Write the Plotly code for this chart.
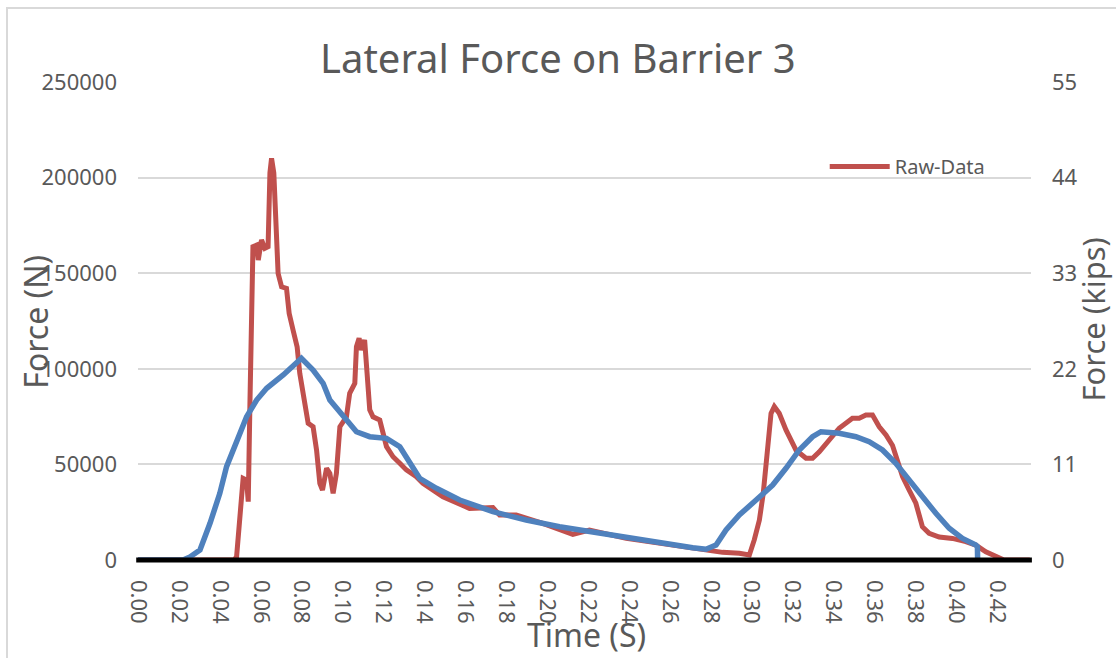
import plotly.graph_objects as go

# ---- data ----
raw_time = [0.000, 0.0470, 0.0482, 0.0505, 0.0514, 0.0531, 0.0539, 0.0547, 0.0554, 0.0562,
            0.0580, 0.0588, 0.0604, 0.0620, 0.0636, 0.0645, 0.0653, 0.0664, 0.0685, 0.0702,
            0.0726, 0.0739, 0.0758, 0.0778, 0.0791, 0.0815, 0.0832, 0.0856, 0.0873, 0.0889,
            0.0902, 0.0922, 0.0938, 0.0954, 0.0970, 0.0987, 0.1019, 0.1035, 0.1060, 0.1068,
            0.1081, 0.1092, 0.1108, 0.1120, 0.1133, 0.1149, 0.1182, 0.1215, 0.1247, 0.1280,
            0.1312, 0.1361, 0.1393, 0.1491, 0.1621, 0.1735, 0.1768, 0.1849, 0.1979, 0.2126,
            0.2207, 0.2387, 0.2549, 0.2761, 0.2858, 0.2940, 0.2989, 0.3013, 0.3038, 0.3057,
            0.3078, 0.3095, 0.3111, 0.3135, 0.3168, 0.3217, 0.3266, 0.3298, 0.3331, 0.3380,
            0.3428, 0.3493, 0.3526, 0.3559, 0.3591, 0.3624, 0.3657, 0.3689, 0.3738, 0.3770,
            0.3803, 0.3835, 0.3868, 0.3917, 0.3982, 0.4047, 0.4096, 0.4145, 0.4210, 0.4234,
            0.4360]
raw_force_n = [0, 0, 1700, 27900, 42700, 41800, 30500, 80200, 132500, 163900,
               164700, 156900, 167400, 163000, 163900, 202400, 210100, 202400, 149900, 142900,
               142100, 129000, 120300, 111500, 97600, 80200, 71500, 69700, 57500, 40100,
               36600, 48000, 45300, 34900, 45300, 69700, 74900, 87200, 92400, 111600,
               116000, 109800, 115100, 97600, 78500, 74900, 73200, 59300, 54000, 50600,
               47100, 43600, 40100, 33100, 27000, 27400, 23500, 23500, 19200, 13400,
               15700, 11300, 8700, 5200, 4000, 3500, 2600, 10500, 20900, 34900,
               59300, 76700, 80200, 76700, 68000, 57500, 53200, 53200, 56600, 62800,
               68900, 74100, 74100, 75800, 75800, 69700, 65400, 59900, 43600, 36600,
               29700, 17400, 14000, 12000, 11300, 9600, 7800, 4300, 900, 0,
               0]

filt_time = [0.000, 0.0220, 0.0254, 0.0303, 0.0352, 0.0400, 0.0433, 0.0482, 0.0531, 0.0580,
             0.0629, 0.0710, 0.0758, 0.0799, 0.0856, 0.0905, 0.0938, 0.1003, 0.1068, 0.1133,
             0.1215, 0.1280, 0.1328, 0.1377, 0.1459, 0.1573, 0.1735, 0.1898, 0.2061, 0.2224,
             0.2387, 0.2549, 0.2712, 0.2777, 0.2826, 0.2875, 0.2940, 0.3022, 0.3103, 0.3168,
             0.3233, 0.3298, 0.3339, 0.3428, 0.3510, 0.3575, 0.3640, 0.3705, 0.3770, 0.3835,
             0.3901, 0.3966, 0.4031, 0.4096, 0.4104, 0.4105]
filt_force_kips = [0, 0, 0.35, 1.15, 4.22, 7.67, 10.74, 13.81, 16.49, 18.41,
                   19.76, 21.29, 22.44, 23.21, 21.86, 20.33, 18.41, 16.49, 14.76, 14.19,
                   14.00, 13.04, 11.31, 9.40, 8.25, 6.90, 5.56, 4.60, 3.83, 3.19,
                   2.55, 2.02, 1.40, 1.23, 1.73, 3.45, 5.18, 6.90, 8.63, 10.55,
                   12.66, 14.19, 14.76, 14.58, 14.19, 13.61, 12.66, 11.13, 9.20, 7.28,
                   5.37, 3.65, 2.49, 1.73, 1.53, 0]

left_ticks = [0, 50000, 100000, 150000, 200000, 250000]
right_ticks = [0, 11, 22, 33, 44, 55]

TXT = "#595959"
FONT = "Noto Sans"

fig = go.Figure()
fig.add_trace(go.Scatter(
    x=raw_time, y=raw_force_n, mode="lines", name="Raw-Data",
    line=dict(color="#C0504D", width=5), yaxis="y"))
fig.add_trace(go.Scatter(
    x=filt_time, y=filt_force_kips, mode="lines", name="Filtered",
    line=dict(color="#4F81BD", width=5.5), yaxis="y2", showlegend=False))

fig.update_layout(
    width=1116, height=658,
    margin=dict(l=138, r=85, t=82, b=98),
    paper_bgcolor="white", plot_bgcolor="white",
    font=dict(family=FONT, color=TXT),
    showlegend=True,
    legend=dict(x=0.769, y=0.864, xanchor="left", yanchor="top",
                bgcolor="rgba(0,0,0,0)", font=dict(size=20, color=TXT),
                itemwidth=60),
    xaxis=dict(range=[0, 0.4366], dtick=0.02, tick0=0, tickformat=".2f",
               tickangle=90, showgrid=False, zeroline=False, showline=False,
               ticks="", ticklabelstandoff=19, tickfont=dict(size=22, color=TXT)),
    yaxis=dict(range=[0, 250000], tickvals=left_ticks, ticktext=[str(v) for v in left_ticks],
               showgrid=True, gridcolor="#d9d9d9", gridwidth=1.5, zeroline=False,
               showline=False, ticks="", ticklabelstandoff=20,
               tickfont=dict(size=22, color=TXT)),
    yaxis2=dict(range=[0, 55], tickvals=right_ticks, overlaying="y", side="right",
                showgrid=False, zeroline=False, showline=False, ticks="",
                ticklabelstandoff=20, tickfont=dict(size=22, color=TXT)),
    annotations=[
        dict(text="Lateral Force on Barrier 3", xref="paper", yref="paper",
             x=0.4703, y=1.051, showarrow=False, xanchor="center", yanchor="middle",
             font=dict(size=40, color=TXT)),
        dict(text="Force (N)", xref="paper", yref="paper", x=-0.1145, y=0.498,
             showarrow=False, textangle=-90, xanchor="center", yanchor="middle",
             font=dict(size=32, color=TXT)),
        dict(text="Force (kips)", xref="paper", yref="paper", x=1.0700, y=0.504,
             showarrow=False, textangle=-90, xanchor="center", yanchor="middle",
             font=dict(size=31, color=TXT)),
        dict(text="Time (S)", xref="paper", yref="paper", x=0.5017, y=-0.155,
             showarrow=False, xanchor="center", yanchor="middle",
             font=dict(size=32, color=TXT)),
    ],
    shapes=[
        # thick black baseline along the time axis
        dict(type="line", xref="paper", yref="paper", x0=-0.002, x1=1.001, y0=0, y1=0,
             line=dict(color="black", width=5), layer="above"),
        # light chart-area border
        dict(type="rect", xref="paper", yref="paper", x0=-0.1467, x1=1.3, y0=-0.4, y1=1.1548,
             line=dict(color="#d9d9d9", width=2), layer="below"),
    ],
)

fig.write_html("out.html", config={"displayModeBar": False},
               post_script="document.body.style.margin='0px';")
